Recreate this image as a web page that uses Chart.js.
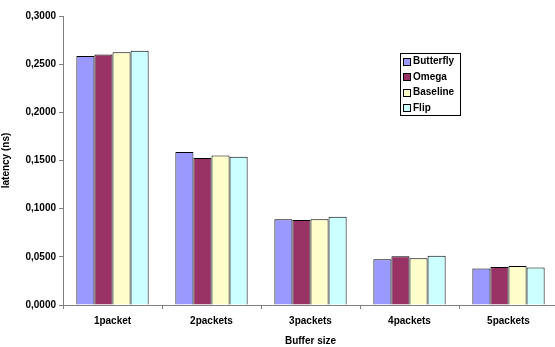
<!DOCTYPE html>
<html>
<head>
<meta charset="utf-8">
<script src="https://cdn.jsdelivr.net/npm/chart.js@4/dist/chart.umd.min.js"></script>
<style>
  html, body { margin: 0; padding: 0; background: #fff; overflow: hidden; }
  #clip { width: 555px; height: 347px; overflow: hidden; position: relative; }
  #wrap { width: 575px; height: 347px; position: relative; }
</style>
</head>
<body>
<div id="clip"><div id="wrap"><canvas id="c"></canvas></div></div>
<script>
const categories = ['1packet', '2packets', '3packets', '4packets', '5packets'];
const butterfly = [0.2585, 0.1588, 0.0890, 0.0475, 0.0378];
const omega     = [0.2600, 0.1525, 0.0883, 0.0505, 0.0395];
const baseline  = [0.2625, 0.1553, 0.0890, 0.0485, 0.0405];
const flip      = [0.2640, 0.1538, 0.0917, 0.0512, 0.0390];
const seriesNames = ['Butterfly', 'Omega', 'Baseline', 'Flip'];
const seriesColors = ['#9999FF', '#993366', '#FFFFCC', '#CCFFFF'];
const yTicks = [0, 0.05, 0.10, 0.15, 0.20, 0.25, 0.30];

const FONT = "'Liberation Sans', Arial, sans-serif";
const AXIS = '#808080';

// Boxed legend drawn inside the plot, upper right
const boxLegend = {
  id: 'boxLegend',
  afterDraw(chart) {
    const ctx = chart.ctx;
    const x0 = 400, y0 = 53, w = 60, h = 62, row = 15.5;
    ctx.save();
    ctx.fillStyle = '#fff';
    ctx.fillRect(x0, y0, w, h);
    ctx.strokeStyle = '#000';
    ctx.lineWidth = 1;
    ctx.strokeRect(x0 + 0.5, y0 + 0.5, w, h);
    ctx.font = 'bold 10px ' + FONT;
    ctx.textBaseline = 'middle';
    chart.data.datasets.forEach((ds, i) => {
      const cy = y0 + 8 + i * row;
      ctx.fillStyle = ds.backgroundColor;
      ctx.fillRect(403, Math.round(cy - 3.5), 7, 7);
      ctx.strokeStyle = '#000';
      ctx.strokeRect(403.5, Math.round(cy - 3.5) + 0.5, 7, 7);
      ctx.fillStyle = '#000';
      ctx.fillText(ds.label, 413, cy + 0.5);
    });
    ctx.restore();
  }
};

// Keep the open right side of the plot clean: no closing frame line
// beyond the last group of bars.
const openRight = {
  id: 'openRight',
  afterDraw(chart) {
    const area = chart.chartArea;
    const last = chart.getDatasetMeta(chart.data.datasets.length - 1).data[categories.length - 1];
    const x = Math.ceil(last.x + last.width / 2) + 3;
    const ctx = chart.ctx;
    ctx.save();
    ctx.fillStyle = '#fff';
    ctx.fillRect(x, area.top - 2, chart.width - x, area.bottom - area.top + 1);
    ctx.restore();
  }
};

const datasets = [butterfly, omega, baseline, flip].map((vals, i) => ({
  label: seriesNames[i],
  data: vals,
  backgroundColor: seriesColors[i],
  borderColor: '#000',
  borderWidth: 1,
  barPercentage: 1.0,
  categoryPercentage: 0.73
}));

// boundary tick marks between categories only
const isInnerTick = c => c.type === 'tick' && c.index < categories.length;
const xTickColor = c => (isInnerTick(c) ? AXIS : 'rgba(0,0,0,0)');
const xTickWidth = c => (isInnerTick(c) ? 1 : 0);

new Chart(document.getElementById('c'), {
  type: 'bar',
  data: { labels: categories, datasets },
  options: {
    responsive: true,
    maintainAspectRatio: false,
    animation: false,
    layout: { padding: { top: 16, right: 17, bottom: 0, left: 0 } },
    plugins: {
      legend: { display: false },
      tooltip: { enabled: false }
    },
    scales: {
      x: {
        offset: true,
        grid: {
          display: true, drawOnChartArea: false, offset: true, tickLength: 4,
          color: xTickColor, tickColor: xTickColor, lineWidth: xTickWidth, tickWidth: xTickWidth
        },
        border: { color: AXIS },
        ticks: { color: '#000', font: { family: FONT, size: 10, weight: 'bold' }, padding: 6, maxRotation: 0 },
        title: { display: true, text: 'Buffer size', color: '#000', font: { family: FONT, size: 10, weight: 'bold' }, padding: { top: 2, bottom: 0 } },
        afterFit(s) { s.height = 42; }
      },
      y: {
        min: 0,
        max: 0.3,
        afterBuildTicks(s) { s.ticks = yTicks.map(v => ({ value: v })); },
        grid: { display: true, drawOnChartArea: false, tickLength: 4, color: AXIS },
        border: { color: AXIS },
        ticks: {
          color: '#000',
          font: { family: FONT, size: 10, weight: 'bold' },
          padding: 3,
          callback: v => v.toFixed(4).replace('.', ',')
        },
        title: { display: true, text: 'latency (ns)', color: '#000', font: { family: FONT, size: 10, weight: 'bold' }, padding: { top: 0, bottom: 2 } },
        afterFit(s) { s.width = 63; }
      }
    }
  },
  plugins: [boxLegend, openRight]
});
</script>
</body>
</html>
